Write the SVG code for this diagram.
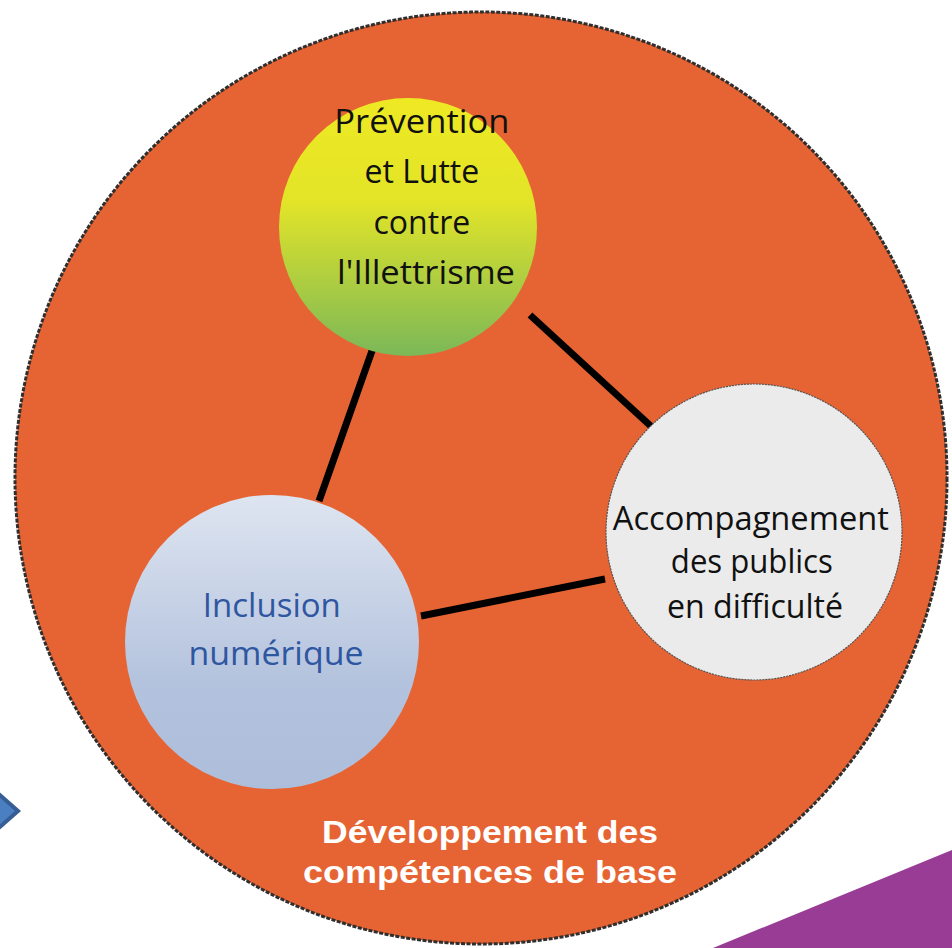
<svg xmlns="http://www.w3.org/2000/svg" width="952" height="948" viewBox="0 0 952 948">
  <defs>
    <linearGradient id="gYellow" x1="0" y1="0" x2="0" y2="1">
      <stop offset="0" stop-color="#EEE923"/>
      <stop offset="0.4" stop-color="#E3E428"/>
      <stop offset="1" stop-color="#7BB858"/>
    </linearGradient>
    <linearGradient id="gBlue" x1="0" y1="0" x2="0" y2="1">
      <stop offset="0" stop-color="#DEE5F1"/>
      <stop offset="0.65" stop-color="#B3C2DD"/>
      <stop offset="1" stop-color="#ADBEDB"/>
    </linearGradient>
    <style>
      .node-text { font-family: "Open Sans", "Noto Sans", "DejaVu Sans", sans-serif; font-size: 32px; text-anchor: middle; }
      .conn { stroke: #000; stroke-width: 7; stroke-linecap: butt; fill: none; }
      .base { font-family: "Liberation Sans", Arial, sans-serif; font-weight: bold; font-size: 32px; fill: #FFFFFF; text-anchor: middle; }
    </style>
  </defs>

  <rect x="0" y="0" width="952" height="948" fill="#FFFFFF"/>

  <!-- background decorations -->
  <polygon points="713,948 952,850 952,948" fill="#983C96"/>
  <polygon points="-8,788 18,811 -8,834" fill="#4A7FC1" stroke="#365E95" stroke-width="4"/>

  <!-- outer circle -->
  <g id="outer">
    <circle cx="481" cy="478" r="466" fill="#E66433" stroke="#2F2F2F" stroke-width="3" stroke-dasharray="4 1.5"/>
    <text class="base" x="490" y="843" textLength="336" lengthAdjust="spacingAndGlyphs">Développement des</text>
    <text class="base" x="490" y="883" textLength="374" lengthAdjust="spacingAndGlyphs">compétences de base</text>
  </g>

  <!-- connectors -->
  <g id="connectors">
    <line class="conn" x1="373" y1="348" x2="319" y2="501"/>
    <line class="conn" x1="530" y1="315" x2="654" y2="429"/>
    <line class="conn" x1="421" y1="616" x2="605" y2="579"/>
  </g>

  <!-- nodes -->
  <g id="node-prevention">
    <circle cx="408" cy="227" r="129" fill="url(#gYellow)"/>
    <text class="node-text" fill="#111111">
      <tspan x="426" y="133" textLength="175" lengthAdjust="spacingAndGlyphs">Prévention</tspan>
      <tspan x="426" y="183">et Lutte</tspan>
      <tspan x="426" y="234">contre</tspan>
      <tspan x="426" y="284" textLength="178" lengthAdjust="spacingAndGlyphs">l'Illettrisme</tspan>
    </text>
  </g>

  <g id="node-inclusion">
    <circle cx="272" cy="642" r="147" fill="url(#gBlue)"/>
    <text class="node-text" fill="#2F56A0">
      <tspan x="276" y="617" textLength="138" lengthAdjust="spacingAndGlyphs">Inclusion</tspan>
      <tspan x="276" y="665" textLength="175" lengthAdjust="spacingAndGlyphs">numérique</tspan>
    </text>
  </g>

  <g id="node-accompagnement">
    <circle cx="754" cy="532" r="148" fill="#EBEBEB" stroke="#555555" stroke-width="1.2" stroke-dasharray="2 1"/>
    <text class="node-text" fill="#111111">
      <tspan x="755" y="530" textLength="276" lengthAdjust="spacingAndGlyphs">Accompagnement</tspan>
      <tspan x="756" y="573" textLength="162" lengthAdjust="spacingAndGlyphs">des publics</tspan>
      <tspan x="755" y="618" textLength="176" lengthAdjust="spacingAndGlyphs">en difficulté</tspan>
    </text>
  </g>
</svg>
